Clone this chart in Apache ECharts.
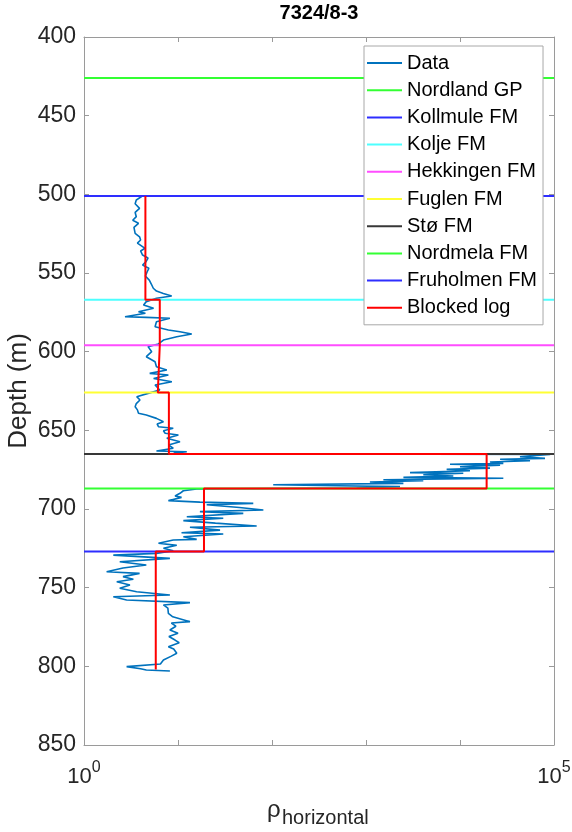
<!DOCTYPE html>
<html>
<head>
<meta charset="utf-8">
<script src="https://cdn.jsdelivr.net/npm/echarts@6/dist/echarts.min.js"></script>
<style>
  html, body { margin: 0; padding: 0; background: #ffffff; }
  #chart { width: 572px; height: 832px; }
</style>
</head>
<body>
<div id="chart"></div>
<script>
// Well 7324/8-3: horizontal resistivity log against depth, with formation tops and a blocked log

// Measured log (depth in m, resistivity)
const dataDepth = [
  500.9, 501.5, 503.6, 506.0, 508.9, 511.5, 514.2, 516.5, 518.4, 521.0, 524.8, 527.0, 529.0, 531.0,
  534.3, 536.0, 538.6, 540.5, 542.8, 545.0, 547.0, 549.2, 552.0, 554.5, 557.0, 559.7, 561.5, 563.0,
  564.6, 566.0, 568.2, 570.3, 572.4, 574.6, 575.6, 577.8, 578.2, 578.8, 581.0, 584.2, 586.2, 587.3,
  588.8, 590.5, 592.6, 595.1, 596.8, 600.0, 603.2, 606.4, 609.6, 611.7, 613.8, 614.8, 617.0, 619.1,
  621.2, 624.4, 626.5, 628.6, 630.7, 633.0, 635.0, 637.0, 639.2, 640.3, 642.4, 644.5, 646.0, 647.7,
  648.7, 650.3, 651.9, 653.0, 655.0, 657.2, 659.3, 661.4, 663.1, 663.6, 664.5, 664.9, 665.4,
  665.7, 666.8, 667.8, 668.4, 669.3, 670.1, 671.0, 671.6, 672.2, 673.1, 674.0, 674.8, 675.7, 676.9,
  677.3, 678.2, 679.0, 679.9, 680.5, 681.4, 682.0, 682.8, 683.7, 684.6, 685.2, 685.8, 686.7, 687.3,
  688.4, 690.0, 691.7, 692.6, 694.7, 695.6, 696.4, 697.3, 699.0, 700.6, 701.7, 702.8, 704.9, 705.9,
  707.4, 709.0, 710.8, 711.6, 713.4, 715.1, 715.9, 717.6, 719.3, 719.7, 721.8, 723.1, 725.0, 726.5,
  728.2, 729.3, 731.4, 733.5, 735.6, 737.5, 739.9, 740.9, 743.0, 744.7, 746.2, 748.3, 750.4, 752.6,
  754.7, 755.8, 757.8, 759.5, 761.0, 763.0, 766.3, 768.5, 771.6, 772.5, 774.5, 776.9, 779.0, 781.0,
  783.3, 785.0, 787.5, 789.0, 791.7, 793.5, 796.0, 798.5, 800.2, 801.5, 802.3, 803.0
];
const dataRho = [
  3.4, 4.1, 3.6, 3.5, 3.9, 3.5, 3.6, 3.3, 3.8, 3.4, 3.5, 3.9, 4.0, 3.7,
  4.46, 4.0, 4.2, 4.8, 4.57, 4.2, 4.9, 4.7, 4.5, 4.95, 5.2, 5.46, 5.9, 6.98,
  8.57, 5.9, 4.6, 4.3, 5.5, 3.8, 4.5, 2.73, 4.6, 8.2, 5.9, 5.7, 7.9, 10.5,
  14.0, 9.7, 7.0, 6.2, 4.8, 5.25, 4.6, 5.7, 5.9, 7.6, 5.0, 7.9, 5.5, 8.6,
  5.7, 6.4, 4.8, 3.64, 3.94, 3.6, 3.5, 3.7, 3.8, 4.6, 5.9, 7.0, 6.0, 6.2,
  8.9, 7.0, 7.3, 10.1, 7.6, 10.5, 7.9, 8.9, 5.9, 12.4, 9.0, 12.0, 91000,
  90600, 43450, 80200, 26700, 55600, 20840, 28900, 7830, 26700, 10000, 20840, 7210, 12760, 2940,
  10840, 4070, 8490, 2500, 28900, 1530, 4070, 1100, 2500, 103, 488, 2300, 794, 15.8,
  11.4, 10.5, 9.3, 10.9, 7.9, 17.1, 63.2, 20.2, 45.0, 80.9, 17.1, 49.5, 12.4, 30.3,
  11.4, 25.0, 68.7, 13.4, 28.0, 10.9, 30.3, 11.4, 15.8, 8.9, 6.2, 9.7, 7.0, 8.9,
  5.9, 2.05, 8.2, 2.4, 4.6, 2.6, 1.74, 3.9, 2.6, 3.35, 2.23, 3.08, 2.4, 3.63,
  8.2, 2.05, 2.84, 13.4, 7.0, 7.8, 7.9, 8.8, 13.4, 8.5, 9.5, 8.2, 10.0, 8.0,
  9.3, 10.3, 7.9, 9.0, 9.7, 8.5, 7.0, 6.5, 2.84, 4.0, 4.6, 8.2
];

// Formation tops (m)
const formationNames = ['Nordland GP', 'Kollmule FM', 'Kolje FM', 'Hekkingen FM', 'Fuglen FM',
                        'Stø FM', 'Nordmela FM', 'Fruholmen FM'];
const formationDepths = [426, 501, 567, 596, 626, 665, 687, 727];

// Blocked log: one constant value per interval between tops
const blockedTops = [501, 567, 596, 626, 665, 687, 727];
const blockedBase = 802;
const blockedRho = [4.5, 6.4, 6.1, 8.0, 19200, 18.9, 5.8];

// Axis ranges and tick labels
const depthMin = 400, depthMax = 850, depthStep = 50;
const rhoMin = 1, rhoMax = 100000;
const rhoTickLabels = { 0: '{b|10}{s|0}', 5: '{b|10}{s|5}' };

// Styling
const formationColors = ['#33ff33', '#2e2eff', '#4dffff', '#ff4dff', '#ffff33',
                         '#383838', '#33ff33', '#2e2eff'];
const FONT = 'Liberation Sans, Arial, Helvetica, sans-serif';
const AXIS_GRAY = '#9a9a9a';
const TEXT_DARK = '#262626';

// Build the step outline of the blocked log
const blockedPts = [];
blockedTops.forEach((top, i) => {
  const bottom = i + 1 < blockedTops.length ? blockedTops[i + 1] : blockedBase;
  blockedPts.push([blockedRho[i], top]);
  blockedPts.push([blockedRho[i], bottom]);
});

const series = [];
series.push({
  name: 'Data',
  type: 'line',
  data: dataDepth.map((d, i) => [dataRho[i], d]),
  symbol: 'none',
  lineStyle: { color: '#0072BD', width: 1.6 },
  itemStyle: { color: '#0072BD' },
  z: 2,
  animation: false
});
formationNames.forEach((name, i) => {
  series.push({
    name: name,
    type: 'line',
    data: [[rhoMin, formationDepths[i]], [rhoMax, formationDepths[i]]],
    symbol: 'none',
    lineStyle: { color: formationColors[i], width: 2 },
    itemStyle: { color: formationColors[i] },
    z: 3,
    animation: false
  });
});
series.push({
  name: 'Blocked log',
  type: 'line',
  data: blockedPts,
  symbol: 'none',
  lineStyle: { color: '#ff0000', width: 2 },
  itemStyle: { color: '#ff0000' },
  z: 4,
  animation: false
});

const chart = echarts.init(document.getElementById('chart'), null, { renderer: 'canvas' });

const logAxisBase = {
  type: 'log',
  logBase: 10,
  min: rhoMin,
  max: rhoMax,
  axisLine: { show: true, lineStyle: { color: AXIS_GRAY, width: 1 } },
  axisTick: { show: true, inside: true, length: 5, lineStyle: { color: AXIS_GRAY } },
  minorTick: { show: false },
  splitLine: { show: false }
};
const depthAxisBase = {
  type: 'value',
  inverse: true,
  min: depthMin,
  max: depthMax,
  interval: depthStep,
  axisLine: { show: true, lineStyle: { color: AXIS_GRAY, width: 1 } },
  axisTick: { show: true, inside: true, length: 5, lineStyle: { color: AXIS_GRAY } },
  splitLine: { show: false }
};

chart.setOption({
  backgroundColor: '#ffffff',
  animation: false,
  title: {
    text: '7324/8-3',
    left: 319,
    top: 3,
    textAlign: 'center',
    padding: 0,
    textStyle: { fontFamily: FONT, fontSize: 20, fontWeight: 'bold', color: '#000000' }
  },
  grid: { left: 84, right: 18, top: 37, bottom: 87, containLabel: false, outerBoundsMode: 'none' },
  legend: {
    orient: 'vertical',
    left: 364,
    top: 46,
    padding: [7, 6, 7, 3],
    itemGap: 7.2,
    itemWidth: 35,
    itemHeight: 2,
    icon: 'rect',
    backgroundColor: '#ffffff',
    borderColor: '#a8a8a8',
    borderWidth: 1,
    textStyle: { fontFamily: FONT, fontSize: 20, color: '#000000', lineHeight: 20 },
    data: ['Data'].concat(formationNames).concat(['Blocked log'])
  },
  xAxis: [
    Object.assign({}, logAxisBase, {
      position: 'bottom',
      axisLabel: {
        show: true,
        margin: 21,
        showMinLabel: true,
        showMaxLabel: true,
        color: TEXT_DARK,
        fontFamily: FONT,
        formatter: function (v) {
          const e = Math.round(Math.log10(v));
          return rhoTickLabels[e] || '';
        },
        rich: {
          b: { fontFamily: FONT, fontSize: 22, color: TEXT_DARK, lineHeight: 22, verticalAlign: 'bottom' },
          s: { fontFamily: FONT, fontSize: 16, color: TEXT_DARK, lineHeight: 16, padding: [0, 0, 12, 0], verticalAlign: 'bottom' }
        }
      }
    }),
    Object.assign({}, logAxisBase, {
      position: 'top',
      axisLabel: { show: false }
    })
  ],
  yAxis: [
    Object.assign({}, depthAxisBase, {
      position: 'left',
      name: 'Depth (m)',
      nameLocation: 'middle',
      nameRotate: 90,
      nameGap: 52,
      nameMoveOverlap: false,
      nameTextStyle: { fontFamily: FONT, fontSize: 26, color: TEXT_DARK },
      axisLabel: {
        show: true,
        margin: 8,
        showMinLabel: true,
        showMaxLabel: true,
        color: TEXT_DARK,
        fontFamily: FONT,
        fontSize: 23
      }
    }),
    Object.assign({}, depthAxisBase, {
      position: 'right',
      axisLabel: { show: false }
    })
  ],
  graphic: [
    {
      type: 'text',
      left: 267,
      top: 798,
      style: { text: 'ρ', fontFamily: FONT, fontSize: 24, fill: TEXT_DARK }
    },
    {
      type: 'text',
      left: 282,
      top: 808,
      style: { text: 'horizontal', fontFamily: FONT, fontSize: 20, fill: TEXT_DARK }
    }
  ],
  series: series
});
</script>
</body>
</html>
